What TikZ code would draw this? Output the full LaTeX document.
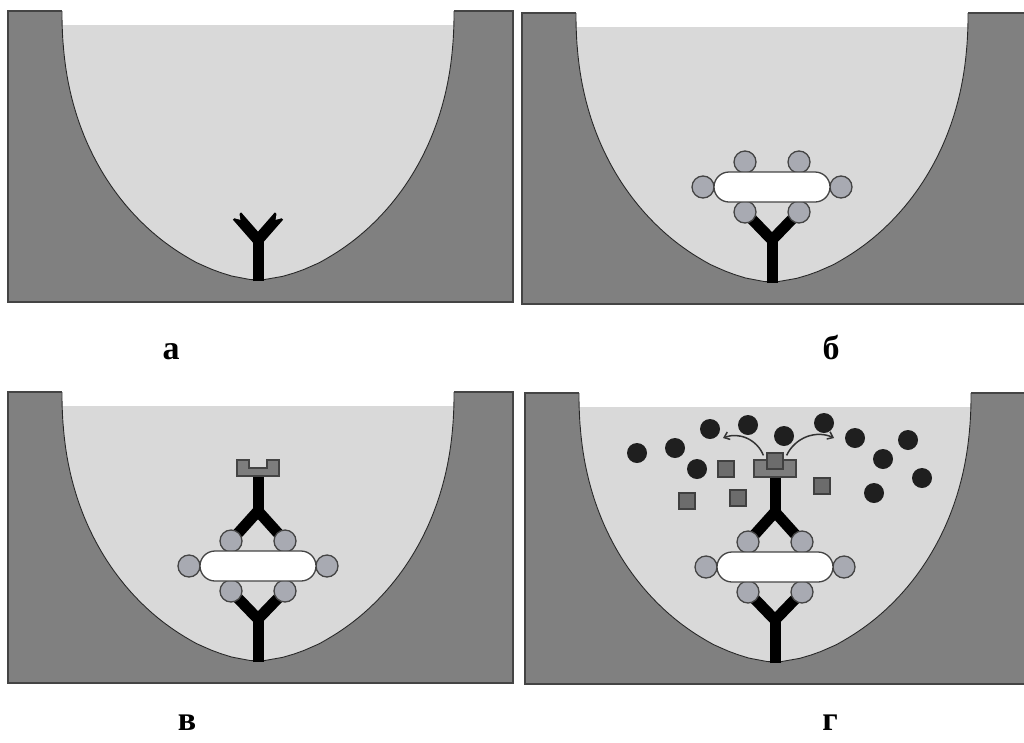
\documentclass[tikz,border=0pt]{standalone}
\usepackage{fontspec}
\setmainfont{Liberation Serif}
\usetikzlibrary{arrows.meta}

\definecolor{wallgray}{RGB}{128,128,128}
\definecolor{liquidgray}{RGB}{217,217,217}
\definecolor{rimgray}{RGB}{68,68,68}
\definecolor{ballgray}{RGB}{168,170,178}
\definecolor{capgray}{RGB}{125,125,125}
\definecolor{taggray}{RGB}{108,108,108}

\tikzstyle{wall} = [fill=wallgray]
\tikzstyle{liquid} = [fill=liquidgray]
\tikzstyle{rim} = [draw=rimgray, line width=1.6pt]
\tikzstyle{surface} = [draw=black!85, line width=0.9pt]
\tikzstyle{stalk} = [draw=black, line width=11pt]
\tikzstyle{ball} = [fill=ballgray, draw=rimgray, line width=1.3pt]
\tikzstyle{pill} = [fill=white, draw=rimgray, line width=1.3pt, rounded corners=15pt]
\tikzstyle{capstyle} = [fill=capgray, draw=rimgray, line width=1.2pt]
\tikzstyle{tag} = [rectangle, minimum size=16pt, inner sep=0pt, fill=taggray, draw=black!75, line width=1.2pt]
\tikzstyle{analyte} = [fill=black!88]
\tikzstyle{arrow} = [line width=1.5pt, black!80, -{Straight Barb[length=5pt, width=8pt]}]
\tikzstyle{panelname} = [font=\fontsize{34}{40}\selectfont\bfseries, anchor=base]

% inner wall of a well: down the left side, up the right side
\newcommand{\wellcurve}{
  (54,0) -- plot[domain=0.001:0.999, samples=80, variable=\t]
    ({250-196*(1-\t^2.2)^(0.5882)}, {269*\t})
  -- (250,269) -- plot[domain=0.999:0.001, samples=80, variable=\t]
    ({250+196*(1-\t^2.2)^(0.5882)}, {269*\t})
  -- (446,0)
}

\tikzset{
  % well with the liquid, origin at the top left corner
  well/.pic={
    \fill[wall] (0,0) rectangle (505,291);
    \fill[white] \wellcurve -- cycle;
    \begin{scope}
      \clip \wellcurve -- cycle;
      \fill[liquid] (0,14) rectangle (505,291);
    \end{scope}
    \draw[surface] \wellcurve;
    \draw[rim] (54,0) -- (0,0) -- (0,291) -- (505,291) -- (505,0) -- (446,0);
  },
  % antibody on the bottom, free arms
  freeab/.pic={
    \draw[stalk] (0,1) -- (0,-42);
    \draw[stalk] (-21,-64) -- (0,-40) -- (21,-64);
    \fill[liquid] (-18.7,-67.4) -- (-24.7,-62.1) -- (-17.7,-60.2) -- cycle;
    \fill[liquid] (18.7,-67.4) -- (24.7,-62.1) -- (17.7,-60.2) -- cycle;
  },
  lowerab/.pic={
    \draw[stalk] (0,1) -- (0,-44);
    \draw[stalk] (-27,-70) -- (0,-42) -- (27,-70);
  },
  upperab/.pic={
    \draw[stalk] (-27,-120) -- (0,-150) -- (27,-120);
    \draw[stalk] (0,-148) -- (0,-186);
  },
  % bound particle with its sites
  bead/.pic={
    \draw[ball] (-27,-70) circle (11);
    \draw[ball] (27,-70) circle (11);
    \draw[ball] (-27,-120) circle (11);
    \draw[ball] (27,-120) circle (11);
    \draw[ball] (-69,-95) circle (11);
    \draw[ball] (69,-95) circle (11);
    \draw[pill] (-58,-110) rectangle (58,-80);
  }
}

\begin{document}
\begin{tikzpicture}[x=1pt, y=-1pt]
\useasboundingbox (0,0) rectangle (1024,742);

% wells
\pic at (8,11) {well};
\pic at (522,13) {well};
\pic at (8,392) {well};
\pic at (525,393) {well};

% a
\pic at (258,280) {freeab};

% b
\pic at (772,282) {lowerab};
\pic at (772,282) {bead};

% c
\pic at (258,661) {lowerab};
\pic at (258,661) {upperab};
\pic at (258,661) {bead};
\begin{scope}[shift={(258,661)}]
  \filldraw[capstyle] (-21,-185) -- (-21,-201) -- (-9,-201) -- (-9,-193) -- (9,-193)
    -- (9,-201) -- (21,-201) -- (21,-185) -- cycle;
\end{scope}

% d
\pic at (775,662) {lowerab};
\pic at (775,662) {upperab};
\pic at (775,662) {bead};
\begin{scope}[shift={(775,662)}]
  \filldraw[capstyle] (-21,-185) rectangle (21,-202);
  \node[tag] (freed) at (0,-201) {};
\end{scope}

\foreach \x/\y in {637/453, 675/448, 710/429, 748/425, 784/436, 824/423,
                   855/438, 908/440, 883/459, 697/469, 922/478, 874/493}
  \fill[analyte] (\x,\y) circle (10);

\foreach \x/\y [count=\i] in {726/469, 687/501, 738/498, 822/486}
  \node[tag] (tag\i) at (\x,\y) {};

\coordinate (outl) at (723,438);
\coordinate (outr) at (834,438);
\draw[arrow] (freed.north west) ++(-3,3) to[bend right=45] (outl);
\draw[arrow] (freed.north east) ++(3,3) to[bend left=45] (outr);

% labels
\node[panelname] (panA) at (171,359) {а};
\node[panelname] (panB) at (831,359) {б};
\node[panelname] (panC) at (187,730) {в};
\node[panelname] (panD) at (830,730) {г};

\end{tikzpicture}
\end{document}
